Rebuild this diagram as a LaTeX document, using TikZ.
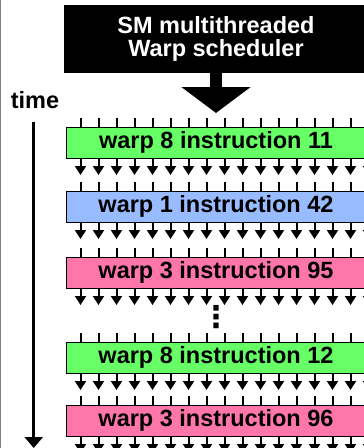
\documentclass[tikz,border=0pt]{standalone}
\usepackage{fontspec}
\setmainfont{Liberation Sans}[BoldFont={Liberation Sans Bold}]
\newfontfamily\mydotsfont{DejaVu Sans Bold}
\usetikzlibrary{
  arrows.meta,  % Tips "Triangle"
  positioning   % Function "of" (e.g. [below=of x])
}
\definecolor{warpgreen}{HTML}{66FF66}
\definecolor{warpblue}{HTML}{99BBFF}
\definecolor{warppink}{HTML}{FF77AA}
\def\mybigfont{\fontsize{23.5}{23}\selectfont\bfseries}
\def\myndist{33pt}
\def\mytick{18pt}
\tikzset{
  font=\mybigfont,
  x=1pt,
  y=1pt,
  my box/.style={
    draw,
    line width=1pt,
    rectangle,
    minimum width=300pt,
    minimum height=31pt,
    inner sep=0pt,
    outer sep=0pt
  },
  my tick/.style={
    line width=2pt
  },
  my lane/.style={
    line width=2pt,
    -{Triangle[width=11pt,length=9pt]}
  },
  big arrow/.style={
    line width=12pt,
    -{Triangle[width=68pt,length=26pt]}
  },
  time arrow/.style={
    line width=3pt,
    -{Triangle[width=18pt,length=11pt]}
  }
}

\begin{document}
\begin{tikzpicture}[node distance=\myndist]
\useasboundingbox (0,0) rectangle (364,-448);
\clip (0,0) rectangle (364,-448);
\draw[gray, line width=1pt] (0.5,0) -- (0.5,-448);
\node[fill=black, text=white, minimum width=304pt, minimum height=68pt, align=center] (sched) at (216,-39) {SM multithreaded\\Warp scheduler};
\node[my box, fill=warpgreen] (w8a) at (216,-142.5) {warp 8 instruction 11};
\node[my box, fill=warpblue] (w1) [below=of w8a] {warp 1 instruction 42};
\node[my box, fill=warppink] (w3a) [below=35pt of w1] {warp 3 instruction 95};
\node[my box, fill=warpgreen] (w8b) [below=54pt of w3a] {warp 8 instruction 12};
\node[my box, fill=warppink] (w3b) [below=32pt of w8b] {warp 3 instruction 96};
\node[font=\fontsize{30}{30}\mydotsfont] (dots) at (216,-317) {⋮};
\node (time) at (35,-100) {time};
\coordinate (t0) at (33.7,-122);
\coordinate (t1) at (33.7,-448);
\draw[big arrow, shorten >=14pt] (sched.south) -- (w8a.north);
\draw[time arrow] (t0) -- (t1);
\foreach \b in {w8a,w1,w3a,w8b,w3b}
  \foreach \k in {0,...,16} {
    \draw[my tick] ([xshift=14.5pt+\k*\mytick]\b.north west) -- ++(0,9);
    \draw[my lane] ([xshift=14.5pt+\k*\mytick]\b.south west) -- ++(0,-17);
  }
\end{tikzpicture}
\end{document}
